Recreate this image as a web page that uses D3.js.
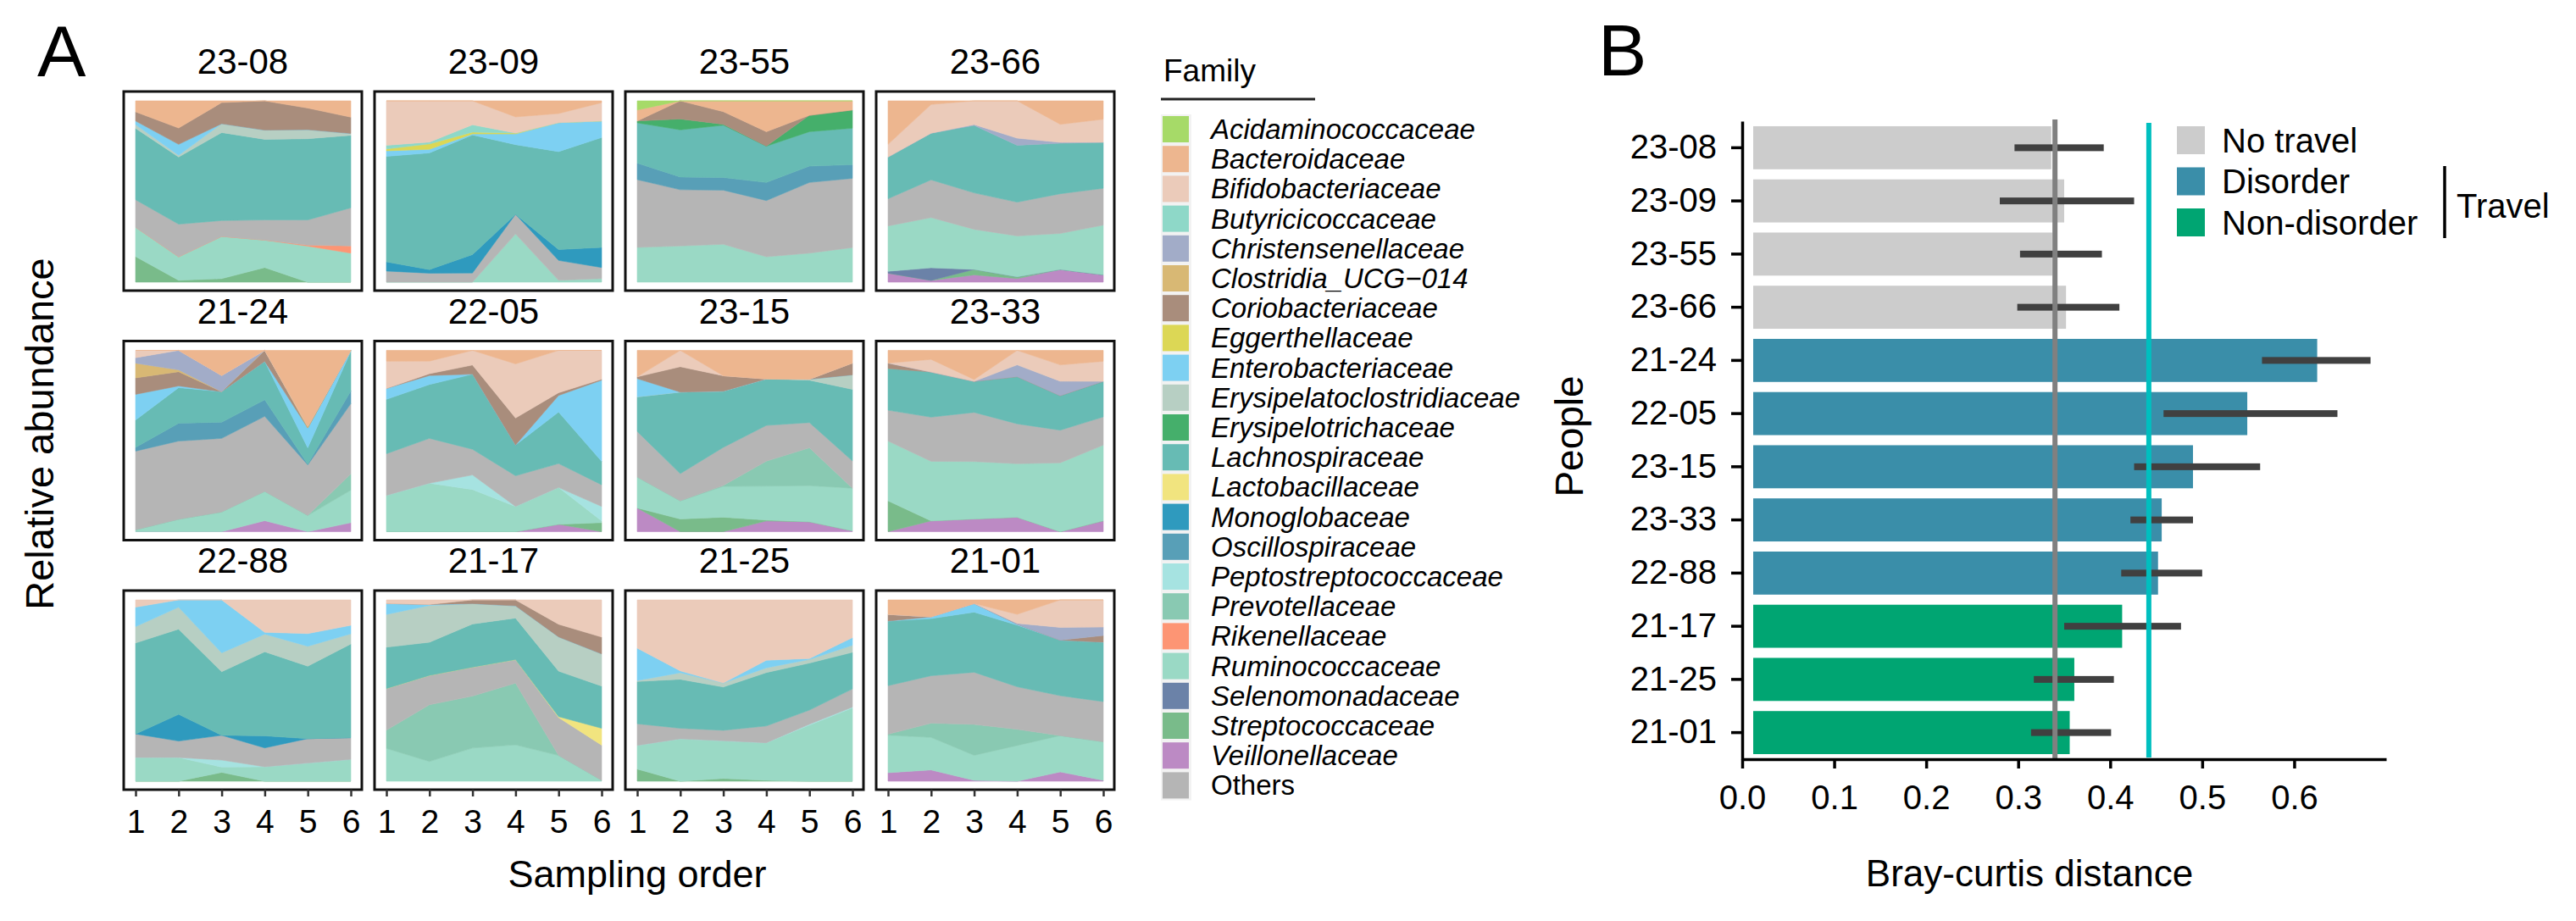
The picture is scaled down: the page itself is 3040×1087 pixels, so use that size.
<!DOCTYPE html>
<html>
<head>
<meta charset="utf-8">
<script src="https://cdn.jsdelivr.net/npm/d3@7"></script>
<style>
  body { margin: 0; background: #fff; }
  svg { display: block; }
  text { font-family: "Liberation Sans", Arial, sans-serif; fill: #000; }
</style>
</head>
<body>
<div id="chart"></div>
<script>
// ---------- Panel A data ----------
const families = [
  'Acidaminococcaceae', 'Bacteroidaceae', 'Bifidobacteriaceae', 'Butyricicoccaceae',
  'Christensenellaceae', 'Clostridia_UCG\u2212014', 'Coriobacteriaceae', 'Eggerthellaceae',
  'Enterobacteriaceae', 'Erysipelatoclostridiaceae', 'Erysipelotrichaceae', 'Lachnospiraceae',
  'Lactobacillaceae', 'Monoglobaceae', 'Oscillospiraceae', 'Peptostreptococcaceae',
  'Prevotellaceae', 'Rikenellaceae', 'Ruminococcaceae', 'Selenomonadaceae',
  'Streptococcaceae', 'Veillonellaceae', 'Others'
]
const familyColors = [
  '#a6da68', '#edb68f', '#ebcbba', '#8ed8c8',
  '#a2acc8', '#d8b874', '#a98d7c', '#dcd755',
  '#7dd0f2', '#b7cfc3', '#45af6b', '#67bbb4',
  '#f1e47f', '#2f9abe', '#589fb7', '#a6e3e1',
  '#89c9b2', '#fd9574', '#9ad9c5', '#6b82a8',
  '#79bb8a', '#bc8ac4', '#b5b5b5'
]
const sampleOrder = [1, 2, 3, 4, 5, 6]

// relative abundance (%) per sample
const p2308 = {
  Streptococcaceae: [14, 1, 2, 8, 0, 0],
  Ruminococcaceae: [16, 13, 24, 15, 20, 16],
  Rikenellaceae: [0, 0, 0, 0, 0.5, 4],
  Others: [15, 18, 9, 11, 14, 21],
  Lachnospiraceae: [39, 37, 50, 44, 45, 40],
  Erysipelatoclostridiaceae: [2, 1, 5, 5, 5, 1],
  Enterobacteriaceae: [2, 6, 0, 0, 0, 0],
  Coriobacteriaceae: [5, 9, 12, 16, 12, 9],
  Bacteroidaceae: [6, 15, 1, 0, 4, 9]
}
const p2309 = {
  Ruminococcaceae: [0, 0, 0, 27, 1, 2],
  Others: [6, 5, 5, 11, 11, 6],
  Monoglobaceae: [5, 2, 10, 0, 6, 11],
  Lachnospiraceae: [57, 65, 65, 39, 54, 60],
  Enterobacteriaceae: [3, 2, 0.5, 6, 16, 9],
  Eggerthellaceae: [1, 3, 1, 0.5, 0, 0],
  Butyricicoccaceae: [2, 1, 4, 0, 0, 0],
  Bifidobacteriaceae: [24, 23, 13, 9, 5, 10],
  Bacteroidaceae: [0, 0, 0, 9, 7, 1]
}
const p2355 = {
  Ruminococcaceae: [19, 20, 21, 14, 16, 19],
  Others: [37, 31, 30, 31, 39, 38],
  Oscillospiraceae: [9, 7, 7, 10, 9, 7.5],
  Lachnospiraceae: [22, 26, 29, 20, 19, 20],
  Erysipelotrichaceae: [1, 6, 0.5, 0, 9, 10],
  Coriobacteriaceae: [0, 10, 7, 8, 0, 0],
  Bacteroidaceae: [6, 0, 6, 17, 8, 5],
  Acidaminococcaceae: [5, 0, 0, 0, 0, 0]
}
const p2366 = {
  Veillonellaceae: [5, 1, 4, 2, 7, 4],
  Streptococcaceae: [0, 0, 3, 1, 0, 0],
  Selenomonadaceae: [1, 7, 0, 0, 0, 0],
  Ruminococcaceae: [25, 28, 22, 23, 20, 27],
  Others: [15, 21, 20, 19, 22, 20],
  Lachnospiraceae: [23, 26, 37, 32, 28, 25],
  Christensenellaceae: [0, 0, 0.5, 4, 0.5, 0],
  Bifidobacteriaceae: [7, 16, 13, 21, 10, 12.5],
  Bacteroidaceae: [24, 2, 0, 0, 13, 10]
}
const p2124 = {
  Veillonellaceae: [0, 0, 0, 6, 0, 5],
  Ruminococcaceae: [1, 7, 11, 16, 9, 18],
  Prevotellaceae: [0, 0, 0, 0, 0, 9],
  Others: [43, 44, 41, 41, 28, 39],
  Oscillospiraceae: [2, 10, 9, 9, 0.5, 7],
  Lachnospiraceae: [15, 20, 17, 21, 9, 22],
  Enterobacteriaceae: [14, 1, 0, 0, 11, 0.5],
  Coriobacteriaceae: [9, 8, 0, 6, 0, 0],
  'Clostridia_UCG\u2212014': [8, 1, 0, 0, 1, 0],
  Christensenellaceae: [3, 11, 9, 0, 0, 0],
  Bifidobacteriaceae: [4, 0, 0, 0, 0, 0],
  Bacteroidaceae: [0, 0, 14, 0, 42, 0]
}
const p2205 = {
  Veillonellaceae: [0, 0, 0, 0, 4, 0],
  Streptococcaceae: [0, 0, 0, 0, 0, 5],
  Ruminococcaceae: [20, 27, 23, 14, 20, 1],
  Peptostreptococcaceae: [0, 0, 8, 0, 0, 8],
  Others: [23, 25, 14, 17, 13, 12],
  Lachnospiraceae: [30, 30, 41, 17, 28, 13],
  Enterobacteriaceae: [6, 5, 0, 0, 9, 45],
  Coriobacteriaceae: [0, 1, 5, 15, 1.5, 0.5],
  Bifidobacteriaceae: [15, 7, 8, 30, 23, 16],
  Bacteroidaceae: [6, 6, 0, 7.5, 0, 0]
}
const p2315 = {
  Veillonellaceae: [13, 0, 0, 6, 5.5, 0.5],
  Streptococcaceae: [0, 7, 8, 0.5, 0, 0],
  Ruminococcaceae: [17, 10, 17, 19, 20, 23.5],
  Prevotellaceae: [0, 0, 0.5, 14, 21, 0],
  Others: [25, 15, 21, 20, 14, 15],
  Lachnospiraceae: [19, 45, 31, 26, 23.5, 39.5],
  Erysipelatoclostridiaceae: [0, 0, 0, 0, 0.5, 8],
  Enterobacteriaceae: [10, 0, 0, 0, 0, 0],
  Coriobacteriaceae: [1, 14, 8.5, 0, 0, 6.5],
  Bifidobacteriaceae: [0, 9, 0, 0, 0, 0],
  Bacteroidaceae: [14.5, 0, 14, 16, 16, 7]
}
const p2333 = {
  Veillonellaceae: [0, 6, 7, 8, 0, 6],
  Streptococcaceae: [17, 0, 0, 0, 0, 0],
  Ruminococcaceae: [33, 33, 31.5, 29.5, 38, 41.5],
  Others: [17, 24.5, 27, 22, 18, 15.5],
  Lachnospiraceae: [23, 25, 17, 26, 19, 19.5],
  Christensenellaceae: [0, 0, 0, 6.5, 8, 0],
  Coriobacteriaceae: [3, 0, 0, 0, 0, 0],
  Bifidobacteriaceae: [0, 7, 1, 8, 9, 11],
  Bacteroidaceae: [7, 5, 16, 0, 8, 6]
}
const p2288 = {
  Streptococcaceae: [0, 0, 5, 0, 0, 0],
  Ruminococcaceae: [13, 13, 3, 8, 10, 12],
  Peptostreptococcaceae: [0, 0, 4, 0, 0, 0],
  Others: [13, 9, 14, 10.5, 13.5, 12],
  Monoglobaceae: [0, 14.6, 0, 6.7, 0, 0],
  Lachnospiraceae: [50, 46.7, 36, 46.7, 40, 51.6],
  Erysipelatoclostridiaceae: [9, 12, 10.7, 9.8, 11, 5.6],
  Enterobacteriaceae: [10.7, 4, 30, 1, 7, 4.7],
  Bifidobacteriaceae: [4, 0, 0, 18, 18.6, 14]
}
const p2117 = {
  Ruminococcaceae: [18, 10.7, 17.9, 20, 14.3, 0.5],
  Prevotellaceae: [10, 30.8, 28, 34, 0, 0],
  Others: [22.9, 15.9, 15.6, 12.9, 21, 19.4],
  Lactobacillaceae: [0, 0, 0, 0, 0.5, 9.3],
  Lachnospiraceae: [22.7, 18, 23.3, 22.9, 25.2, 23.3],
  Erysipelatoclostridiaceae: [18, 20, 11, 6.7, 19, 17.7],
  Enterobacteriaceae: [6, 0.5, 0, 0, 0, 0],
  Coriobacteriaceae: [0, 0, 2, 3.3, 7, 9.3],
  Bifidobacteriaceae: [2, 2.5, 0, 0, 13.5, 20.5]
}
const p2125 = {
  Streptococcaceae: [6.7, 0, 1.5, 0.5, 0, 0],
  Ruminococcaceae: [13, 23.3, 20.7, 20.7, 31, 40.4],
  Peptostreptococcaceae: [0, 0, 0, 0, 0.5, 0.5],
  Others: [12, 5.8, 5.8, 9.3, 7.8, 10],
  Lachnospiraceae: [23.3, 26.9, 23.8, 29.5, 26, 20.2],
  Erysipelatoclostridiaceae: [0.5, 3.6, 2.2, 2.6, 2, 3.9],
  Enterobacteriaceae: [17.9, 1, 0, 4.2, 0.5, 4.2],
  Bifidobacteriaceae: [26.6, 39, 45.7, 33.3, 32.4, 20.8]
}
const p2101 = {
  Veillonellaceae: [4.7, 6.2, 0.5, 0, 5.1, 0.5],
  Ruminococcaceae: [20.7, 17.9, 13.7, 19.8, 19.8, 21.3],
  Prevotellaceae: [0.5, 7.8, 17, 9, 0, 0],
  Others: [26.8, 26.1, 28.6, 23.6, 21.8, 22.2],
  Lachnospiraceae: [35.6, 31.4, 33, 34.2, 30.3, 32.8],
  Enterobacteriaceae: [0, 1, 4.7, 0.5, 0, 0],
  Coriobacteriaceae: [3.7, 0, 0, 0, 0, 3.7],
  Christensenellaceae: [0, 0, 0, 0.5, 7, 4.7],
  Bifidobacteriaceae: [0, 0, 0, 5, 15, 15],
  Bacteroidaceae: [8, 9.3, 2, 8, 0, 0]
}
const panelIds = ['23-08', '23-09', '23-55', '23-66', '21-24', '22-05', '23-15', '23-33', '22-88', '21-17', '21-25', '21-01']
const panelData = [p2308, p2309, p2355, p2366, p2124, p2205, p2315, p2333, p2288, p2117, p2125, p2101]

// ---------- Panel B data ----------
const people = ['23-08', '23-09', '23-55', '23-66', '21-24', '22-05', '23-15', '23-33', '22-88', '21-17', '21-25', '21-01']
const travelGroup = ['No travel', 'No travel', 'No travel', 'No travel',
  'Disorder', 'Disorder', 'Disorder', 'Disorder', 'Disorder',
  'Non-disorder', 'Non-disorder', 'Non-disorder']
const groupNames = ['No travel', 'Disorder', 'Non-disorder']
const groupColors = ['#cccccc', '#3a8ea9', '#00a572']
const meanDist = [0.336, 0.350, 0.337, 0.352, 0.625, 0.549, 0.490, 0.456, 0.452, 0.413, 0.361, 0.356]
const lowDist = [0.296, 0.280, 0.302, 0.299, 0.565, 0.458, 0.426, 0.422, 0.412, 0.350, 0.317, 0.314]
const highDist = [0.393, 0.426, 0.391, 0.410, 0.683, 0.647, 0.563, 0.490, 0.500, 0.477, 0.404, 0.401]
const noTravelMean = 0.340
const travelMean = 0.442
const distTicks = [0, 0.1, 0.2, 0.3, 0.4, 0.5, 0.6]

// ---------- drawing ----------
const W = 3040, H = 1087
const svg = d3.select('#chart').append('svg').attr('width', W).attr('height', H)

const colorOf = d3.scaleOrdinal().domain(families).range(familyColors)
// ggplot stacks alphabetically, first level on top
const stackKeys = families.slice().sort(d3.descending)

const box = { x0: 146, y0: 108, dx: 296, dy: 294.5, w: 281, h: 235, padL: 14, padR: 13, padT: 11, padB: 10 }

const stack = d3.stack().keys(stackKeys).offset(d3.stackOffsetExpand)

panelIds.forEach((id, i) => {
  const col = i % 4
  const row = Math.floor(i / 4)
  const bx = box.x0 + col * box.dx
  const by = box.y0 + row * box.dy
  const x = d3.scaleLinear().domain([1, 6]).range([bx + box.padL, bx + box.w - box.padR])
  const y = d3.scaleLinear().domain([0, 1]).range([by + box.h - box.padB, by + box.padT])

  const rows = sampleOrder.map((s, j) => {
    const o = { sample: s }
    stackKeys.forEach((k) => { o[k] = panelData[i][k] ? panelData[i][k][j] : 0 })
    return o
  })
  const series = stack(rows).filter((s) => d3.sum(s, (d) => d[1] - d[0]) > 0)

  const area = d3.area()
    .x((d) => x(d.data.sample))
    .y0((d) => y(d[0]))
    .y1((d) => y(d[1]))

  const g = svg.append('g')
  g.selectAll('path')
    .data(series)
    .join('path')
    .attr('d', area)
    .attr('fill', (s) => colorOf(s.key))
    .attr('stroke', (s) => colorOf(s.key))
    .attr('stroke-width', 0.6)

  g.append('rect')
    .attr('x', bx).attr('y', by)
    .attr('width', box.w).attr('height', box.h)
    .attr('fill', 'none')
    .attr('stroke', '#111')
    .attr('stroke-width', 3)

  g.append('text')
    .attr('x', bx + box.w / 2)
    .attr('y', by - 21)
    .attr('text-anchor', 'middle')
    .attr('font-size', 42)
    .text(id)

  // sampling order axis under the last row
  if (row === 2) {
    const ax = svg.append('g')
      .attr('transform', `translate(0, ${by + box.h})`)
      .call(d3.axisBottom(x).tickValues(sampleOrder).tickFormat(d3.format('d'))
        .tickSize(8).tickSizeOuter(0).tickPadding(15))
    ax.select('.domain').remove()
    ax.selectAll('line').attr('stroke', '#333').attr('stroke-width', 2.5)
    ax.selectAll('text')
      .attr('font-size', 39)
      .attr('font-family', '"Liberation Sans", Arial, sans-serif')
      .attr('fill', '#000')
  }
})

svg.append('text').attr('x', 44).attr('y', 90).attr('font-size', 86).text('A')

svg.append('text')
  .attr('transform', 'translate(63, 512) rotate(-90)')
  .attr('text-anchor', 'middle')
  .attr('font-size', 47)
  .text('Relative abundance')

svg.append('text')
  .attr('x', 752).attr('y', 1047)
  .attr('text-anchor', 'middle')
  .attr('font-size', 45)
  .text('Sampling order')

// legend A
const legA = svg.append('g')
legA.append('text').attr('x', 1373).attr('y', 96).attr('font-size', 37).text('Family')
legA.append('line')
  .attr('x1', 1370).attr('x2', 1552).attr('y1', 117).attr('y2', 117)
  .attr('stroke', '#222').attr('stroke-width', 3)
const keyPitch = 35.2
legA.append('rect')
  .attr('x', 1370).attr('y', 135)
  .attr('width', 36).attr('height', keyPitch * families.length)
  .attr('fill', '#f2f2f2')
const keys = legA.selectAll('g.key')
  .data(families)
  .join('g')
  .attr('class', 'key')
  .attr('transform', (d, i) => `translate(1372, ${137 + i * keyPitch})`)
keys.append('rect')
  .attr('width', 31).attr('height', 31)
  .attr('fill', (d) => colorOf(d))
keys.append('text')
  .attr('x', 57).attr('y', 15.5)
  .attr('dy', '0.35em')
  .attr('font-size', 33)
  .attr('font-style', (d) => (d === 'Others' ? 'normal' : 'italic'))
  .text((d) => d)

// ---------- Panel B ----------
const xB = d3.scaleLinear().domain([0, 0.7]).range([2056, 2816])
const yB = d3.scaleBand().domain(people).range([143, 896]).paddingInner(0.19).paddingOuter(0.095)
const groupColor = d3.scaleOrdinal().domain(groupNames).range(groupColors)
const barInset = 13

svg.append('text').attr('x', 1886).attr('y', 89).attr('font-size', 86).text('B')

const gB = svg.append('g')
gB.selectAll('rect.bar')
  .data(people)
  .join('rect')
  .attr('class', 'bar')
  .attr('x', xB(0) + barInset)
  .attr('y', (d) => yB(d))
  .attr('width', (d, i) => xB(meanDist[i]) - xB(0) - barInset)
  .attr('height', yB.bandwidth())
  .attr('fill', (d, i) => groupColor(travelGroup[i]))

gB.selectAll('rect.err')
  .data(people)
  .join('rect')
  .attr('class', 'err')
  .attr('x', (d, i) => xB(lowDist[i]))
  .attr('y', (d) => yB(d) + yB.bandwidth() / 2 - 4)
  .attr('width', (d, i) => xB(highDist[i]) - xB(lowDist[i]))
  .attr('height', 8)
  .attr('fill', '#404040')

gB.append('line')
  .attr('x1', xB(noTravelMean)).attr('x2', xB(noTravelMean))
  .attr('y1', 141).attr('y2', 898)
  .attr('stroke', '#808080').attr('stroke-width', 6)
gB.append('line')
  .attr('x1', xB(travelMean)).attr('x2', xB(travelMean))
  .attr('y1', 145).attr('y2', 894)
  .attr('stroke', '#00bfbf').attr('stroke-width', 6)

const axL = svg.append('g')
  .attr('transform', `translate(${xB(0)}, 0)`)
  .call(d3.axisLeft(yB).tickSize(13).tickSizeOuter(0).tickPadding(17))
const axBt = svg.append('g')
  .attr('transform', 'translate(0, 896)')
  .call(d3.axisBottom(xB).tickValues(distTicks).tickFormat(d3.format('.1f')).tickSize(11).tickSizeOuter(0).tickPadding(20))
;[axL, axBt].forEach((ax) => {
  ax.select('.domain').attr('stroke', '#000').attr('stroke-width', 3.5)
  ax.selectAll('line').attr('stroke', '#000').attr('stroke-width', 3.5)
  ax.selectAll('text')
    .attr('font-size', 40)
    .attr('font-family', '"Liberation Sans", Arial, sans-serif')
    .attr('fill', '#000')
})

svg.append('text')
  .attr('transform', 'translate(1868, 515) rotate(-90)')
  .attr('text-anchor', 'middle')
  .attr('font-size', 46)
  .text('People')

svg.append('text')
  .attr('x', 2395).attr('y', 1046)
  .attr('text-anchor', 'middle')
  .attr('font-size', 44)
  .text('Bray-curtis distance')

// legend B
const legB = svg.append('g').attr('transform', 'translate(2569, 149)')
const items = legB.selectAll('g')
  .data(groupNames)
  .join('g')
  .attr('transform', (d, i) => `translate(0, ${i * 48.5})`)
items.append('rect').attr('width', 33).attr('height', 33).attr('fill', (d) => groupColor(d))
items.append('text')
  .attr('x', 53).attr('y', 16.5).attr('dy', '0.35em')
  .attr('font-size', 40)
  .text((d) => d)

svg.append('line')
  .attr('x1', 2885).attr('x2', 2885).attr('y1', 196).attr('y2', 281)
  .attr('stroke', '#000').attr('stroke-width', 3.5)
svg.append('text')
  .attr('x', 2899).attr('y', 243).attr('dy', '0.35em')
  .attr('font-size', 40)
  .text('Travel')
</script>
</body>
</html>
